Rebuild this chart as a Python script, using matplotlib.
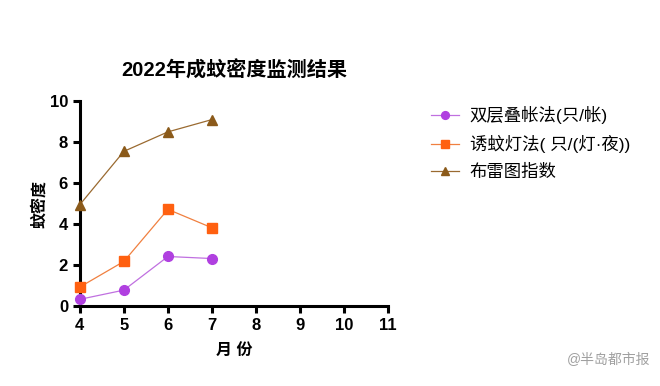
import matplotlib
matplotlib.use("Agg")
import matplotlib.pyplot as plt

plt.rcParams['font.family'] = ['Liberation Sans', 'Noto Sans CJK SC', 'DejaVu Sans']

months = [4, 5, 6, 7]
series_names = ["双层叠帐法(只/帐)", "诱蚊灯法( 只/(灯·夜))", "布雷图指数"]
double_net = [0.33, 0.78, 2.42, 2.32]
light_trap = [0.93, 2.18, 4.72, 3.82]
breteau = [4.95, 7.55, 8.5, 9.1]
x_ticks = [4, 5, 6, 7, 8, 9, 10, 11]
y_ticks = [0, 2, 4, 6, 8, 10]

fig = plt.figure(figsize=(6.6, 3.86), dpi=100)
ax = fig.add_axes([0.121, 0.207, 0.467, 0.531])

ax.plot(months, double_net, color='#C070E0', lw=0.9, marker='o', ms=7,
        mfc='#B040E0', mec='#B040E0', label=series_names[0], clip_on=False, zorder=3)
ax.plot(months, light_trap, color='#F08040', lw=0.9, marker='s', ms=7,
        mfc='#FF6010', mec='#FF6010', label=series_names[1], clip_on=False, zorder=3)
ax.plot(months, breteau, color='#9A6A30', lw=0.9, marker='^', ms=7,
        mfc='#8B5A1A', mec='#8B5A1A', label=series_names[2], clip_on=False, zorder=3)

ax.set_xlim(4, 11)
ax.set_ylim(0, 10)
ax.set_xticks(x_ticks)
ax.set_yticks(y_ticks)
for s in ['top', 'right']:
    ax.spines[s].set_visible(False)
for s in ['left', 'bottom']:
    ax.spines[s].set_linewidth(2.2)
ax.tick_params(width=2.2, length=5, labelsize=12)
for lab in ax.get_xticklabels() + ax.get_yticklabels():
    lab.set_fontweight('bold')

ax.set_title("2022年成蚊密度监测结果", fontsize=14.5, fontweight='bold', pad=18)
ax.set_xlabel("月 份", fontsize=11.5, fontweight='bold', labelpad=7)
ax.set_ylabel("蚊密度", fontsize=11.5, fontweight='bold', labelpad=2)

fig.legend(loc='upper left', bbox_to_anchor=(0.63, 0.765), frameon=False,
           fontsize=12.5, handlelength=1.6, handletextpad=0.6,
           labelspacing=0.62, markerscale=0.8)

fig.text(0.985, 0.05, "@半岛都市报", ha='right', va='bottom', fontsize=10, color='#A0A0A0')

fig.savefig("out.png", dpi=100)
